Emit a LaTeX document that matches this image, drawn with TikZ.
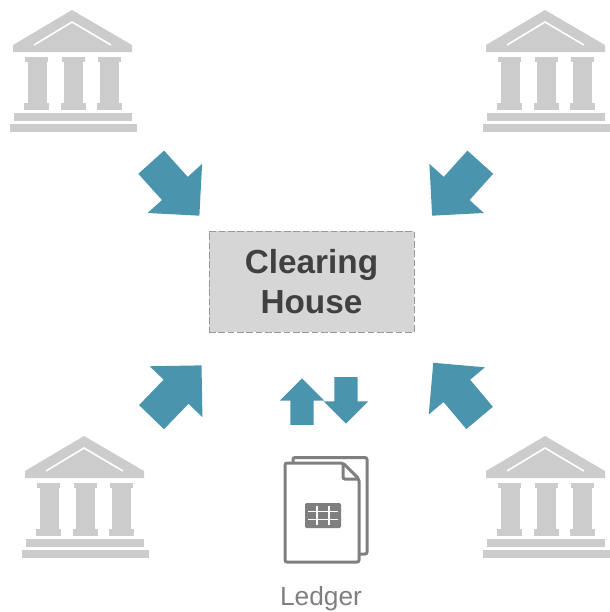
\documentclass[tikz,border=0pt]{standalone}
\usepackage{fontspec}
\setmainfont{Liberation Sans}
\usetikzlibrary{shapes.arrows}
\definecolor{bankgray}{HTML}{CCCCCC}
\definecolor{arrowteal}{HTML}{4A95AD}
\definecolor{boxgray}{HTML}{D6D6D6}
\definecolor{iconline}{HTML}{7F7F7F}
\tikzset{
  bigarrow/.style={single arrow,fill=arrowteal,inner xsep=0pt,inner ysep=12.8pt,
    single arrow head extend=14.5pt,minimum height=54pt},
  smallarrow/.style={single arrow,fill=arrowteal,inner xsep=0pt,inner ysep=8.6pt,
    single arrow head extend=7.9pt,minimum height=35pt},
  bank/.pic={
    \fill[bankgray] (72,10) -- (132,45) -- (132,52) -- (13,52) -- (13,45) -- cycle;
    \draw[white,line width=1.2pt] (34,45) -- (72,22) -- (111,45);
    \foreach \dx in {0,36.5,72.5} {
      \fill[bankgray] (25+\dx,57) rectangle (48+\dx,62);
      \fill[bankgray] (27.5+\dx,62) rectangle (46.5+\dx,103);
      \fill[bankgray] (24+\dx,103) rectangle (49+\dx,110);
    }
    \fill[bankgray] (14,113) rectangle (132,121);
    \fill[bankgray] (9.5,124) rectangle (137,132);
  }
}
\begin{document}
\begin{tikzpicture}[x=0.75pt,y=-0.75pt]
    \useasboundingbox (0,0) rectangle (610,612);
    \pic (banka) at (0,0) {bank};
    \pic (bankb) at (473,0) {bank};
    \pic (bankc) at (12,426) {bank};
    \pic (bankd) at (473,426) {bank};
    \node[draw=iconline!80,dash pattern=on 5pt off 2pt,fill=boxgray,minimum width=153.75pt,minimum height=75.75pt,
      inner sep=0pt,align=center,text=black!75,font=\fontsize{25}{30}\selectfont\bfseries]
      (house) at (311.5,281.5) {Clearing\\House};
    \node[bigarrow,rotate=-48] (arrowa) at (169.5,182.5) {};
    \node[bigarrow,rotate=228] (arrowb) at (462,182.5) {};
    \node[bigarrow,rotate=46] (arrowc) at (170.5,397.5) {};
    \node[bigarrow,rotate=130] (arrowd) at (462,397) {};
    \node[smallarrow,rotate=90] (arrowup) at (302,407.5) {};
    \node[smallarrow,rotate=-90] (arrowdown) at (346,394.5) {};
    % ledger icon
    \draw[iconline,line width=2.25pt,rounded corners=1.5pt]
      (293,463) -- (293,457.5) -- (367,457.5) -- (367,554) -- (359,554);
    \draw[iconline,line width=2.25pt,rounded corners=1.5pt]
      (343,463) -- (285,463) -- (285,562) -- (359,562) -- (359,479) -- cycle;
    \draw[iconline,line width=2.25pt,rounded corners=1.5pt]
      (343,463) -- (343,479) -- (359,479);
    \fill[iconline,rounded corners=1pt] (305,503) rectangle (341,528);
    \foreach \gx in {317,329} {
      \draw[white,line width=0.9pt] (\gx,506) -- (\gx,525);
    }
    \foreach \gy in {511.5,519.5} {
      \draw[white,line width=0.9pt] (308,\gy) -- (338,\gy);
    }
    \node[text=iconline,font=\fontsize{19.75}{24}\selectfont,inner sep=0pt,anchor=base] (ledger) at (321,605) {Ledger};
\end{tikzpicture}
\end{document}
